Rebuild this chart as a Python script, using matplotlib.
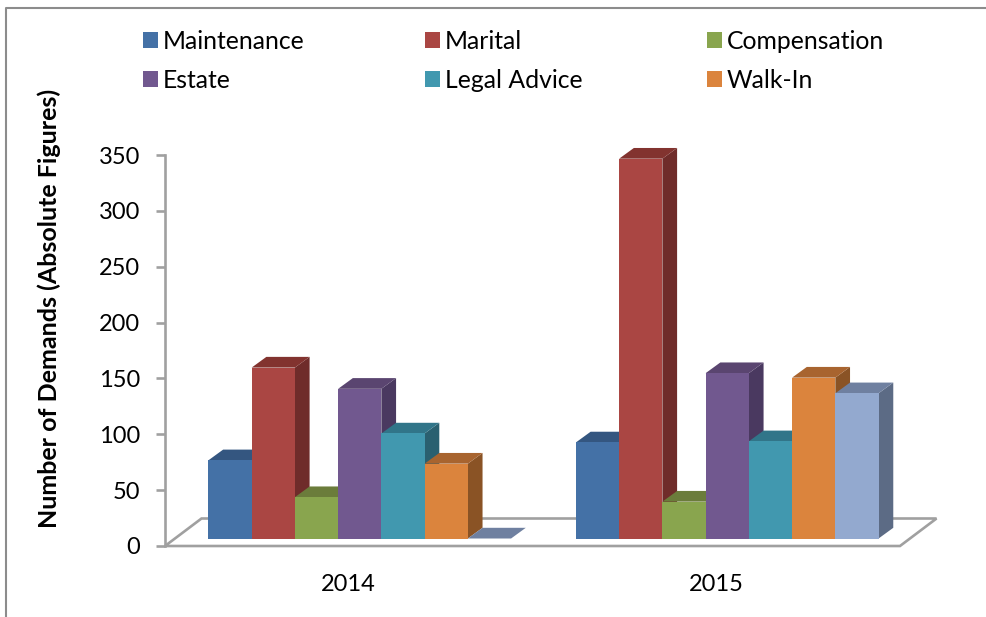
import matplotlib
matplotlib.use('Agg')
import matplotlib.pyplot as plt
from matplotlib.lines import Line2D
from matplotlib.patches import Polygon, Rectangle

plt.rcParams['font.family'] = ['Lato', 'DejaVu Sans']

# Data
years = ['2014', '2015']
series_names = ['Maintenance', 'Marital', 'Compensation', 'Estate', 'Legal Advice', 'Walk-In']
maintenance = [70, 86]
marital = [153, 340]
compensation = [37, 33]
estate = [134, 148]
legal_advice = [94, 87]
walk_in = [67, 144]
unnamed = [0, 130]
all_series = [maintenance, marital, compensation, estate, legal_advice, walk_in, unnamed]

front_colors = ['#4471A6', '#AA4643', '#89A54E', '#71588F', '#4198AF', '#DB843D', '#93A9CF']
top_colors = ['#345680', '#82332F', '#6B7C3B', '#5A4570', '#317589', '#A8642F', '#6F80A0']
side_colors = ['#2C4A70', '#6F2C2A', '#5C6B33', '#4A3960', '#2A6070', '#8A5325', '#5C6B85']

W, H = 986, 617
fig = plt.figure(figsize=(W / 100, H / 100), dpi=100)
ax_left, ax_right, ax_top, ax_bottom = 165, 900, 155, 546
ax = fig.add_axes([ax_left / W, 1 - ax_bottom / H, (ax_right - ax_left) / W, (ax_bottom - ax_top) / H])
ax.set_xlim(-0.5, 1.5)
ax.set_ylim(0, 350)

# pixels to data units
px_x = 2 / (ax_right - ax_left)
px_y = 350 / (ax_bottom - ax_top)

grey = '#A0A0A0'

# floor of the 3d box
floor_dx, floor_dy = 36.5 * px_x, 27.5 * px_y
floor = Polygon([(-0.5, 0), (1.5, 0), (1.5 + floor_dx, floor_dy), (-0.5 + floor_dx, floor_dy)],
                closed=True, facecolor='white', edgecolor=grey, linewidth=1.9, clip_on=False, zorder=1)
ax.add_patch(floor)

# bars: front from ax.bar, side and top as polygons
bar_w = 1 / 8.5
shift_x, shift_y = 11 * px_x, 7.5 * px_y
depth_x, depth_y = 14.7 * px_x, 10.7 * px_y
z = 2
for s, values in enumerate(all_series):
    for c, v in enumerate(values):
        x0 = c + (s - 3.5) * bar_w + shift_x
        x1 = x0 + bar_w
        y0 = shift_y
        y1 = shift_y + v
        side = Polygon([(x1, y0), (x1 + depth_x, y0 + depth_y), (x1 + depth_x, y1 + depth_y), (x1, y1)],
                       closed=True, facecolor=side_colors[s], edgecolor='none', clip_on=False, zorder=z)
        top = Polygon([(x0, y1), (x1, y1), (x1 + depth_x, y1 + depth_y), (x0 + depth_x, y1 + depth_y)],
                      closed=True, facecolor=top_colors[s], edgecolor='none', clip_on=False, zorder=z)
        ax.add_patch(side)
        ax.add_patch(top)
        if v > 0:
            ax.bar(x0, v, width=bar_w, bottom=y0, align='edge', color=front_colors[s], zorder=z + 0.5, clip_on=False)
    z += 1

for name in ['top', 'right', 'bottom']:
    ax.spines[name].set_visible(False)
ax.spines['left'].set_color(grey)
ax.spines['left'].set_linewidth(1.9)
ax.patch.set_visible(False)

ax.set_yticks(range(0, 351, 50))
ax.tick_params(axis='y', length=6.5, width=1.9, color=grey, labelsize=17, pad=11.5, labelcolor='black')
ax.set_xticks([0, 1])
ax.set_xticklabels(years)
ax.tick_params(axis='x', length=0, labelsize=17, pad=20.5)

fig.text(49 / W, 1 - 308 / H, 'Number of Demands (Absolute Figures)', rotation=90, fontsize=18, fontweight='bold',
         ha='center', va='center')

# legend laid out on the same grid as the reference
legend_x = [143, 425, 707]
legend_y = [40, 79]
for i, name in enumerate(series_names):
    lx = legend_x[i % 3]
    ly = legend_y[i // 3]
    fig.add_artist(Rectangle((lx / W, 1 - (ly + 7.5) / H), 15 / W, 15 / H, transform=fig.transFigure,
                             facecolor=front_colors[i], edgecolor='none'))
    fig.text((lx + 20) / W, 1 - (ly + 1.5) / H, name, fontsize=17.8, ha='left', va='center')

# outer chart frame, only top and left show in the crop
fig.add_artist(Line2D([6 / W, 6 / W, 1], [0, 1 - 7.5 / H, 1 - 7.5 / H], transform=fig.transFigure,
                      color='#8C8C8C', linewidth=1.5))

fig.savefig('out.png', dpi=100)
